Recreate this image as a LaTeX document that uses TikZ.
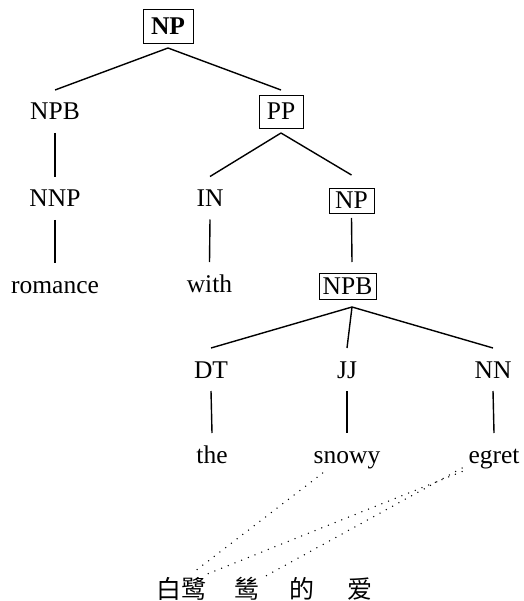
\documentclass[tikz,border=0pt]{standalone}
\usepackage{fontspec}
\setmainfont{Liberation Serif}
\newfontfamily\cjkfont{Noto Sans CJK SC}
\newcommand\treefont{\fontsize{25.5}{30}\selectfont}
\begin{document}
\begin{tikzpicture}[x=1pt,y=-1pt,
  lbl/.style={font=\treefont, inner sep=0pt, outer xsep=0pt, outer ysep=13pt,
    text height=17pt, text depth=0pt, anchor=base},
  catbox/.style={font=\treefont, draw, line width=0.9pt, inner sep=0pt,
    outer xsep=0pt, outer ysep=5pt, text height=17pt, text depth=0pt, anchor=center},
  zh/.style={font=\cjkfont\fontsize{25}{30}\selectfont, inner sep=0pt, anchor=base},
  edge/.style={line width=1.4pt},
  align/.style={line width=1.5pt, line cap=round, dash pattern=on 0pt off 7.2pt}]
\useasboundingbox (0,0) rectangle (523,601);

% phrase nodes
\node[catbox, font=\treefont\bfseries, minimum width=50pt, minimum height=34pt] (np0) at (168,26) {NP};
\node[lbl] (npb1) at (55,120) {NPB};
\node[catbox, minimum width=44pt, minimum height=33pt] (pp) at (281,111.5) {PP};
\node[lbl] (nnp) at (55,207) {NNP};
\node[lbl] (in) at (210,206.5) {IN};
\node[catbox, minimum width=45pt, minimum height=25pt] (np2) at (351.5,200.5) {NP};
\node[lbl] (romance) at (55,293) {romance};
\node[lbl] (with) at (209.5,292) {with};
\node[catbox, minimum width=57pt, minimum height=26pt] (npb2) at (347.5,286) {NPB};
\node[lbl] (dt) at (211,378) {DT};
\node[lbl] (jj) at (347,378) {JJ};
\node[lbl] (nn) at (493,378) {NN};
\node[lbl] (the) at (212,463) {the};
\node[lbl] (snowy) at (347,463) {snowy};
\node[lbl] (egret) at (494,463) {egret};

% Chinese words
\node[zh] (w1) at (181,598) {白鹭};
\node[zh] (w2) at (247,598) {鸶};
\node[zh] (w3) at (302,598) {的};
\node[zh] (w4) at (360,598) {爱};

% tree edges
\draw[edge] (np0.south) -- (npb1.north);
\draw[edge] (np0.south) -- (pp.north);
\draw[edge] (npb1.south) -- (nnp.north);
\draw[edge] (nnp.south) -- (romance.north);
\draw[edge] (pp.south) -- (in.north);
\draw[edge] (pp.south) -- ([yshift=8pt]np2.north);
\draw[edge] (in.south) -- (with.north);
\coordinate (npb2in) at ([xshift=4.5pt,yshift=6pt]npb2.north);
\coordinate (npb2out) at ([xshift=4.5pt,yshift=-3pt]npb2.south);
\draw[edge] (np2.south) -- (npb2in);
\draw[edge] (npb2out) -- (dt.north);
\draw[edge] (npb2out) -- (jj.north);
\draw[edge] (npb2out) -- (nn.north);
\draw[edge] (dt.south) -- (the.north);
\draw[edge] (jj.south) -- (snowy.north);
\draw[edge] (nn.south) -- (egret.north);

% word alignments
\coordinate (sA) at ([xshift=9pt,yshift=3pt]snowy.south west);
\coordinate (eA) at ([xshift=-6.5pt,yshift=4.5pt]egret.south west);
\coordinate (eB) at ([xshift=-6.5pt,yshift=8pt]egret.south west);
\coordinate (zA) at ([xshift=12pt,yshift=4pt]w1.north);
\coordinate (zB) at ([xshift=22pt,yshift=1pt]w1.north);
\coordinate (zC) at ([xshift=16pt,yshift=-1pt]w2.north);
\draw[align] (sA) -- (zA);
\draw[align] (eA) -- (zB);
\draw[align] (eB) -- (zC);
\end{tikzpicture}
\end{document}
